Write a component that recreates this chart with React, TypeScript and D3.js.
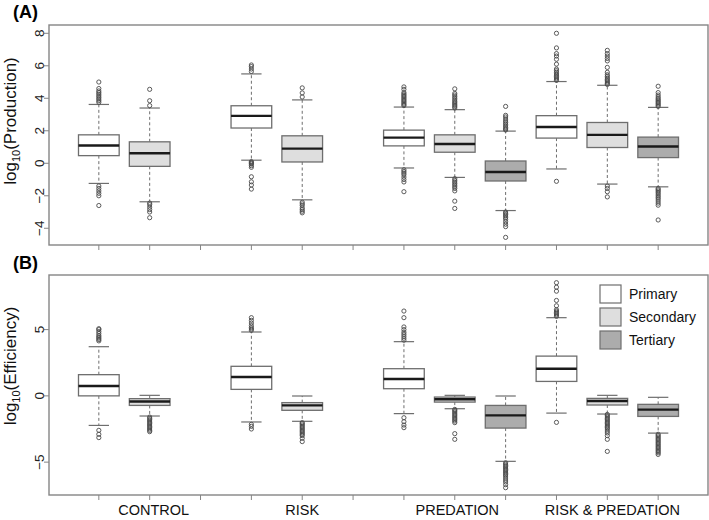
import React from "react";
import * as d3 from "d3";

const groupLabels = ["CONTROL", "RISK", "PREDATION", "RISK & PREDATION"];
const groupLabelPos = [2.08, 5, 8.05, 11.1];
const levelNames = ["Primary", "Secondary", "Tertiary"];
const levelFills = ["#ffffff", "#dedede", "#acacac"];
const boxPositions = [1, 2, 4, 5, 7, 8, 9, 10, 11, 12];
const boxLevels = [0, 1, 0, 1, 0, 1, 2, 0, 1, 2];
const xTicks = [1, 2, 3, 4, 5, 6, 7, 8, 9, 10, 11, 12];

// Panel A: log10(Production)
const prodLo = [-1.24, -2.37, 0.19, -2.25, -0.29, -0.87, -2.91, -0.35, -1.28, -1.45];
const prodQ1 = [0.47, -0.19, 2.17, 0.08, 1.07, 0.68, -1.09, 1.55, 0.97, 0.35];
const prodMed = [1.09, 0.62, 2.92, 0.9, 1.58, 1.19, -0.54, 2.23, 1.75, 1.03];
const prodQ3 = [1.75, 1.32, 3.54, 1.69, 2.04, 1.75, 0.14, 2.93, 2.51, 1.61];
const prodHi = [3.62, 3.4, 5.5, 3.9, 3.46, 3.3, 1.98, 5.03, 4.8, 3.44];
const prodOut = [
  [3.75, 3.85, 3.95, 4.05, 4.15, 4.25, 4.35, 4.45, 4.6, 5.0, -1.4, -1.55, -1.7, -1.85, -2.0, -2.6],
  [3.55, 3.85, 4.55, -2.45, -2.55, -2.7, -2.85, -3.0, -3.35],
  [5.65, 5.8, 5.95, 6.05, 0.1, 0.05, 0.0, -0.05, -0.15, -0.25, -0.83, -1.14, -1.34, -1.59],
  [4.08, 4.33, 4.64, -2.4, -2.5, -2.6, -2.75, -2.85, -2.95, -3.05],
  [3.55, 3.62, 3.7, 3.78, 3.86, 3.94, 4.02, 4.1, 4.18, 4.26, 4.35, 4.55, 4.7, -0.4, -0.5, -0.6, -0.7, -0.85, -1.0, -1.15, -1.75],
  [3.4, 3.48, 3.56, 3.64, 3.72, 3.8, 3.9, 4.0, 4.1, 4.2, 4.3, 4.58, -0.95, -1.05, -1.15, -1.25, -1.35, -1.45, -1.55, -1.7, -2.33, -2.78],
  [2.05, 2.12, 2.2, 2.3, 2.4, 2.5, 2.6, 2.72, 2.85, 2.95, 3.5, -3.0, -3.08, -3.16, -3.25, -3.35, -3.45, -3.6, -3.75, -3.9, -4.56],
  [5.1, 5.18, 5.26, 5.34, 5.42, 5.5, 5.6, 5.7, 5.8, 6.1, 6.4, 6.6, 6.75, 7.1, 8.0, -1.11],
  [4.85, 4.92, 5.0, 5.08, 5.16, 5.25, 5.35, 5.45, 5.6, 5.9, 6.3, 6.45, 6.6, 6.75, 6.95, -1.4, -1.55, -1.75, -2.07],
  [3.5, 3.58, 3.66, 3.74, 3.82, 3.9, 3.98, 4.08, 4.2, 4.35, 4.74, -1.55, -1.63, -1.71, -1.8, -1.9, -2.0, -2.1, -2.2, -2.32, -2.45, -2.58, -3.49],
];

// Panel B: log10(Efficiency)
const effLo = [-2.23, -1.52, -1.97, -1.92, -1.34, -0.97, -4.94, -1.3, -1.37, -2.81];
const effQ1 = [0.0, -0.72, 0.49, -1.09, 0.54, -0.47, -2.43, 1.09, -0.69, -1.55];
const effMed = [0.74, -0.42, 1.42, -0.72, 1.27, -0.26, -1.47, 2.05, -0.39, -1.04];
const effQ3 = [1.6, -0.21, 2.23, -0.51, 2.05, -0.09, -0.72, 3.0, -0.19, -0.64];
const effHi = [3.71, 0.04, 4.82, -0.01, 4.09, 0.04, -0.01, 5.9, 0.04, -0.11];
const effOut = [
  [4.15, 4.25, 4.35, 4.45, 4.55, 4.7, 4.85, 5.0, 5.07, -2.6, -2.9, -3.15],
  [-1.6, -1.7, -1.8, -1.9, -2.0, -2.1, -2.2, -2.3, -2.4, -2.5, -2.6, -2.7],
  [4.95, 5.05, 5.15, 5.3, 5.5, 5.7, 5.9, -2.15, -2.3, -2.5],
  [-2.02, -2.1, -2.2, -2.3, -2.4, -2.5, -2.6, -2.7, -2.8, -2.9, -3.0, -3.2, -3.45],
  [4.2, 4.35, 4.5, 4.65, 4.8, 5.0, 5.2, 5.9, 6.4, -1.65, -1.95, -2.2, -2.4],
  [-1.02, -1.1, -1.2, -1.3, -1.4, -1.5, -1.6, -1.7, -1.8, -1.9, -2.02, -2.85, -3.28],
  [-5.05, -5.15, -5.25, -5.35, -5.45, -5.55, -5.65, -5.75, -5.85, -5.95, -6.05, -6.2, -6.35, -6.5, -6.7, -6.93],
  [6.0, 6.1, 6.2, 6.3, 6.4, 6.5, 6.8, 7.2, 7.9, 8.2, 8.54, -2.0],
  [-1.4, -1.5, -1.6, -1.7, -1.8, -1.9, -2.0, -2.1, -2.2, -2.3, -2.4, -2.5, -2.65, -2.8, -3.0, -3.28, -4.19],
  [-2.9, -3.0, -3.1, -3.2, -3.3, -3.4, -3.5, -3.6, -3.7, -3.8, -3.9, -4.0, -4.1, -4.2, -4.3, -4.42],
];

const prodTicks = [-4, -2, 0, 2, 4, 6, 8];
const effTicks = [-5, 0, 5];

const FONT = "'Liberation Sans', Arial, Helvetica, sans-serif";
const FRAME = "#858585";
const BOXSTROKE = "#6e6e6e";

const xScale = d3.scaleLinear().domain([0.02, 12.98]).range([49, 708]);

type PanelProps = {
  top: number;
  bottom: number;
  domain: [number, number];
  ticks: number[];
  lo: number[];
  q1: number[];
  med: number[];
  q3: number[];
  hi: number[];
  out: number[][];
  title: string;
  titleY: number;
  tag: string;
  tagY: number;
};

function Panel(p: PanelProps) {
  const y = d3.scaleLinear().domain(p.domain).range([p.bottom, p.top]);
  const [x0, x1] = xScale.range();
  const bw = (xScale(1) - xScale(0)) * 0.8;
  const cw = bw / 2;
  return (
    <g>
      <text x={13} y={p.tagY} fontFamily={FONT} fontWeight="bold" fontSize={18} fill="#000">
        {p.tag}
      </text>
      <text
        transform={`translate(16,${p.titleY}) rotate(-90)`}
        textAnchor="middle"
        fontFamily={FONT}
        fontSize={17}
        fill="#111"
      >
        log
        <tspan fontSize={11} dy={4}>10</tspan>
        <tspan dy={-4}>{p.title}</tspan>
      </text>
      {p.ticks.map((t) => (
        <g key={t}>
          <line x1={x0 - 5} x2={x0} y1={y(t)} y2={y(t)} stroke={FRAME} strokeWidth={1} />
          <text
            transform={`translate(43.5,${y(t)}) rotate(-90)`}
            textAnchor="middle"
            fontFamily={FONT}
            fontSize={13.5}
            fill="#222"
          >
            {t < 0 ? "\u2212" + Math.abs(t) : String(t)}
          </text>
        </g>
      ))}
      {xTicks.map((t) => (
        <line key={t} x1={xScale(t)} x2={xScale(t)} y1={p.bottom} y2={p.bottom + 5} stroke={FRAME} strokeWidth={1} />
      ))}
      {boxPositions.map((pos, i) => {
        const cx = xScale(pos);
        return (
          <g key={pos}>
            <line x1={cx} x2={cx} y1={y(p.q3[i])} y2={y(p.hi[i])} stroke={BOXSTROKE} strokeWidth={1} strokeDasharray="3,2.5" />
            <line x1={cx} x2={cx} y1={y(p.q1[i])} y2={y(p.lo[i])} stroke={BOXSTROKE} strokeWidth={1} strokeDasharray="3,2.5" />
            <line x1={cx - cw / 2} x2={cx + cw / 2} y1={y(p.hi[i])} y2={y(p.hi[i])} stroke={BOXSTROKE} strokeWidth={1.2} />
            <line x1={cx - cw / 2} x2={cx + cw / 2} y1={y(p.lo[i])} y2={y(p.lo[i])} stroke={BOXSTROKE} strokeWidth={1.2} />
            <rect
              x={cx - bw / 2}
              y={y(p.q3[i])}
              width={bw}
              height={y(p.q1[i]) - y(p.q3[i])}
              fill={levelFills[boxLevels[i]]}
              stroke={BOXSTROKE}
              strokeWidth={1.3}
            />
            <line x1={cx - bw / 2} x2={cx + bw / 2} y1={y(p.med[i])} y2={y(p.med[i])} stroke="#1a1a1a" strokeWidth={2.4} />
            {p.out[i].map((v, j) => (
              <circle key={j} cx={cx} cy={y(v)} r={2.1} fill="none" stroke="#4a4a4a" strokeWidth={0.9} />
            ))}
          </g>
        );
      })}
      <rect x={x0} y={p.top} width={x1 - x0} height={p.bottom - p.top} fill="none" stroke={FRAME} strokeWidth={1.4} />
    </g>
  );
}

export default function App() {
  return (
    <div style={{ position: "absolute", left: 0, top: 0 }}>
      <svg width={709} height={520} style={{ display: "block", background: "#fff" }}>
        <Panel
          top={25}
          bottom={245}
          domain={[-5.03, 8.51]}
          ticks={prodTicks}
          lo={prodLo}
          q1={prodQ1}
          med={prodMed}
          q3={prodQ3}
          hi={prodHi}
          out={prodOut}
          title="(Production)"
          titleY={121}
          tag="(A)"
          tagY={18}
        />
        <Panel
          top={275}
          bottom={495}
          domain={[-7.48, 9.12]}
          ticks={effTicks}
          lo={effLo}
          q1={effQ1}
          med={effMed}
          q3={effQ3}
          hi={effHi}
          out={effOut}
          title="(Efficiency)"
          titleY={366}
          tag="(B)"
          tagY={269}
        />
        {groupLabels.map((g, i) => (
          <text key={g} x={xScale(groupLabelPos[i])} y={515} textAnchor="middle" fontFamily={FONT} fontSize={14.5} fill="#111">
            {g}
          </text>
        ))}
        {levelNames.map((n, i) => (
          <g key={n}>
            <rect x={600} y={285 + i * 23} width={21} height={18} fill={levelFills[i]} stroke={BOXSTROKE} strokeWidth={1.2} />
            <text x={629} y={299 + i * 23} fontFamily={FONT} fontSize={14} fill="#111">
              {n}
            </text>
          </g>
        ))}
      </svg>
    </div>
  );
}
